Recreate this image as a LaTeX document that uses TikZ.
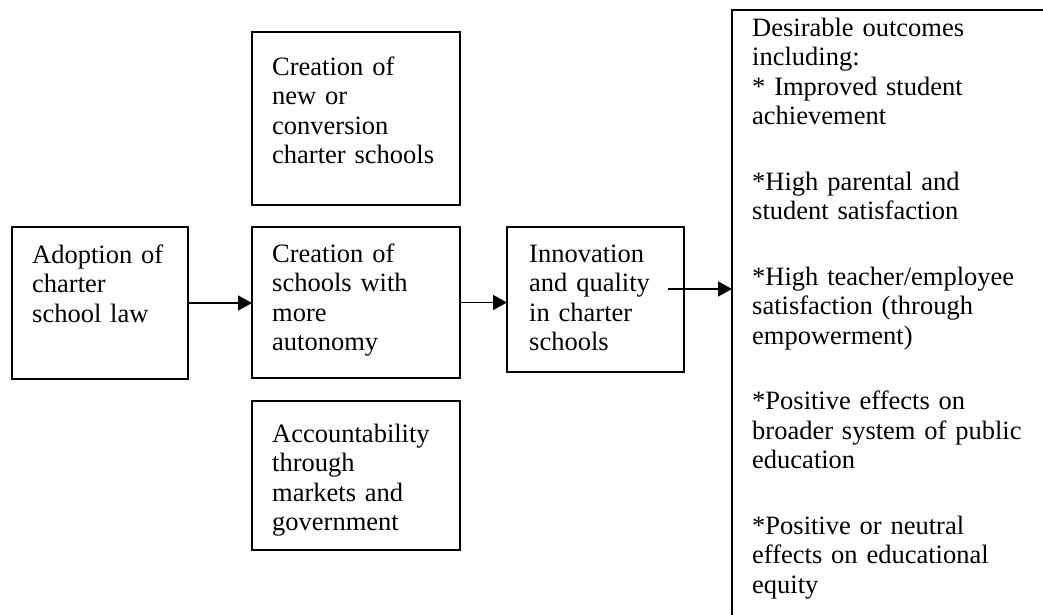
\documentclass[tikz,border=0pt]{standalone}
\usepackage{fontspec}
\setmainfont{Liberation Serif}
\usetikzlibrary{arrows.meta,calc}
\begin{document}
\begin{tikzpicture}[x=1pt,y=-1pt,
  box/.style={draw,line width=1.6pt,rectangle,inner sep=0pt,outer sep=0pt,anchor=north west},
  txt/.style={font=\fontsize{26.5}{29.5}\selectfont,align=left,text width=300pt,inner sep=0pt,anchor=base west},
  arr/.style={line width=1.4pt,-{Triangle[length=14pt,width=15pt]}}]
\useasboundingbox (0,0) rectangle (1043,614);
\begin{scope}
\clip (0,0) rectangle (1043,614);
\node[box,minimum width=176pt,minimum height=152pt] (adopt) at (12,227) {};
\node[box,minimum width=208pt,minimum height=173pt] (top) at (252,32) {};
\node[box,minimum width=208pt,minimum height=151pt] (mid) at (252,227) {};
\node[box,minimum width=208pt,minimum height=149pt] (bot) at (252,401) {};
\node[box,minimum width=177pt,minimum height=145pt] (innov) at (507,227) {};
\node[box,minimum width=400pt,minimum height=700pt] (out) at (732,10) {};

\node[txt] (tadopt) at (32,263) {Adoption of\\charter\\school law};
\node[txt] (ttop) at (272,75) {Creation of\\new or\\conversion\\charter schools};
\node[txt] (tmid) at (272,262) {Creation of\\schools with\\more\\autonomy};
\node[txt] (tbot) at (272,442) {Accountability\\through\\markets and\\government};
\node[txt] (tinnov) at (529,262) {Innovation\\and quality\\in charter\\schools};
\node[txt] (tout) at (752,36) {Desirable outcomes\\including:\\\relax{*} Improved student\\achievement\\[36pt]{*}High parental and\\student satisfaction\\[36pt]{*}High teacher/employee\\satisfaction (through\\empowerment)\\[36pt]{*}Positive effects on\\broader system of public\\education\\[36pt]{*}Positive or neutral\\effects on educational\\equity};

\draw[arr] (adopt.east) -- (adopt.east -| mid.west);
\draw[arr] (mid.east) -- (mid.east -| innov.west);
\coordinate (istart) at (668,289);
\draw[arr] (istart) -- (istart -| out.west);
\end{scope}
\end{tikzpicture}
\end{document}
